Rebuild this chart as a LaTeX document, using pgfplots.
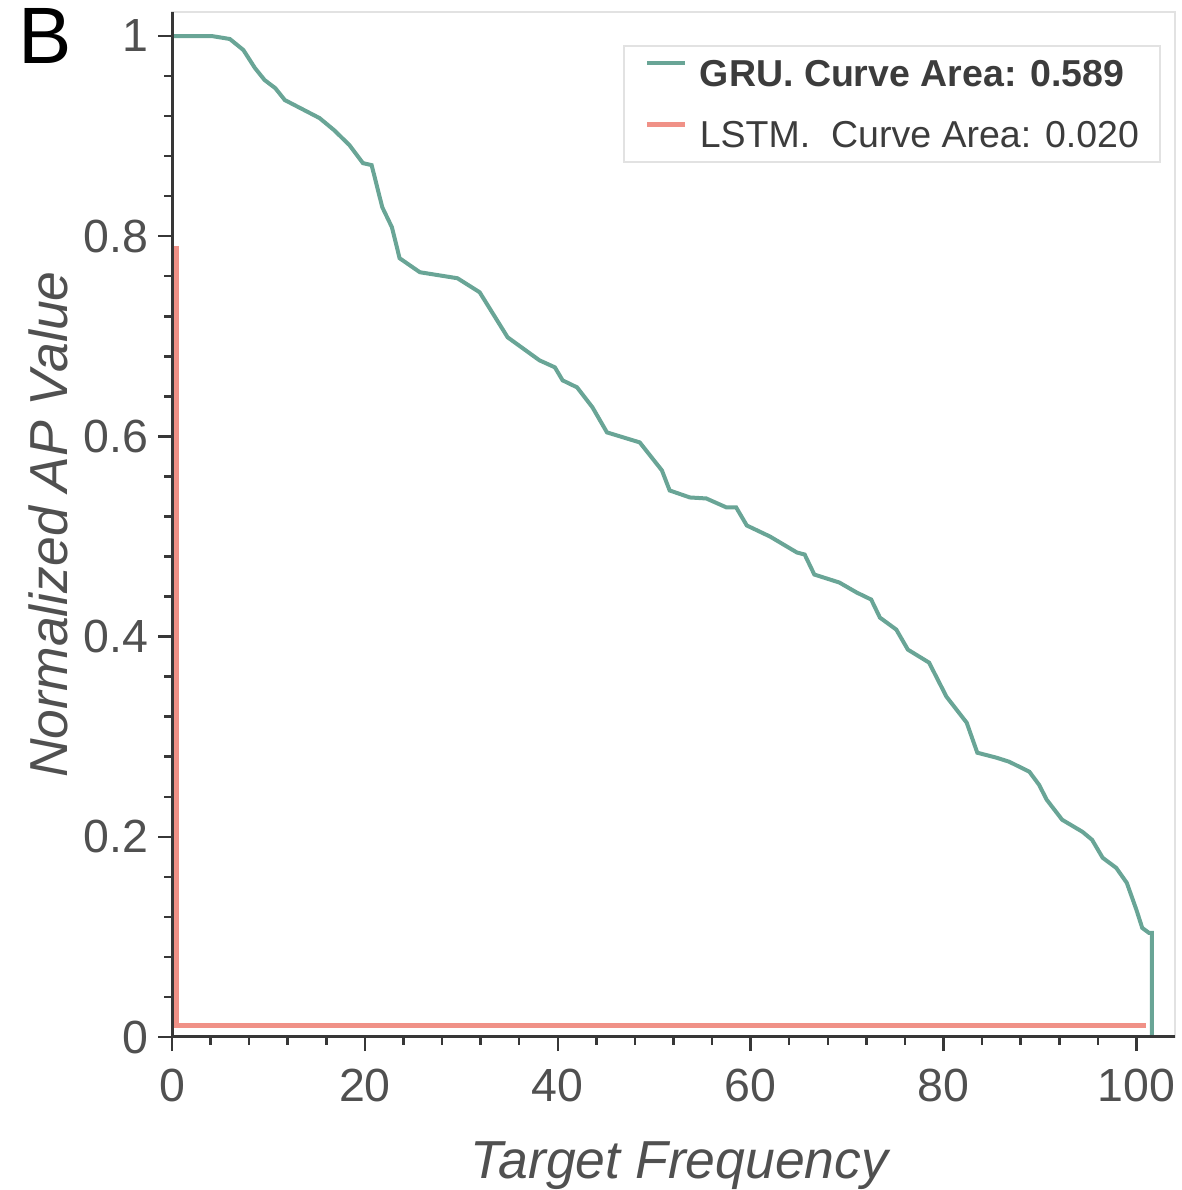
\documentclass[border=0pt]{standalone}
\usepackage{pgfplots}
\pgfplotsset{compat=1.18}
\usepackage{fontspec}
\setmainfont{Liberation Sans}
\definecolor{gru}{RGB}{105,165,150}
\definecolor{lstm}{RGB}{240,145,135}
\definecolor{spine}{RGB}{55,55,55}
\definecolor{frame}{RGB}{226,226,226}
\definecolor{txt}{RGB}{80,80,80}
\definecolor{legtxt}{RGB}{60,60,60}
\begin{document}
\begin{tikzpicture}
\useasboundingbox (0,0) rectangle (236.2pt,238pt);
\node[font=\fontsize{16}{18}\selectfont, anchor=center, inner sep=0pt] at (9pt,230.8pt) {B};
\begin{axis}[
  at={(34.4pt,30.6pt)}, anchor=south west,
  scale only axis, width=200.6pt, height=205pt,
  xmin=0, xmax=104, ymin=0, ymax=1.024,
  xtick={0,20,40,60,80,100}, ytick={0,0.2,0.4,0.6,0.8,1},
  minor tick num=4,
  tick align=outside, tick pos=left,
  major tick length=2.8pt, minor tick length=1.6pt,
  every tick/.style={spine, line width=0.5pt},
  axis line style={frame, line width=0.5pt},
  ticklabel style={font=\fontsize{9.3}{11}\selectfont, text=txt},
  yticklabel style={xshift=1.6pt},
  /pgf/number format/assume math mode=true,
  xlabel={Target Frequency}, ylabel={Normalized AP Value},
  label style={font=\fontsize{10.7}{12}\selectfont\itshape, text=txt},
  xlabel style={at={(axis description cs:0.506,-0.1376)}, anchor=base},
  ylabel style={at={(axis description cs:-0.1236,0.5)}, anchor=center},
  legend style={at={(rel axis cs:0.986,0.968)}, anchor=north east,
    draw=frame, fill=white, font=\fontsize{7.5}{9}\selectfont, text=legtxt,
    inner xsep=4.2pt, inner ysep=2.8pt, column sep=2.4pt, row sep=6.8pt,
    nodes={inner sep=0pt, text height=5.4pt, text depth=0pt}},
  legend cell align=left,
  legend image code/.code={\draw[#1] (0pt,2pt) -- (7.6pt,2pt);},
  clip=false,
]
\addplot[gru, line width=0.8pt] coordinates {
(0,1.0) (4.1,1.0) (6.0,0.997) (7.4,0.986) (8.6,0.968) (9.6,0.956) (10.7,0.948)
(11.7,0.936) (13.3,0.928) (15.3,0.918) (16.8,0.906) (18.4,0.891) (19.8,0.873)
(20.7,0.871) (21.8,0.829) (22.8,0.809) (23.6,0.778) (25.7,0.764) (29.6,0.758)
(31.9,0.744) (34.8,0.699) (38.1,0.676) (39.7,0.669) (40.5,0.656) (42.0,0.649)
(43.6,0.629) (45.1,0.604) (48.5,0.594) (50.8,0.566) (51.6,0.546) (53.7,0.539)
(55.4,0.538) (57.5,0.529) (58.5,0.529) (59.6,0.511) (62.0,0.500) (64.8,0.484)
(65.6,0.482) (66.6,0.462) (69.2,0.454) (71.0,0.444) (72.5,0.437) (73.4,0.419)
(75.1,0.407) (76.3,0.387) (78.5,0.374) (80.3,0.340) (82.4,0.314) (83.5,0.284)
(85.5,0.279) (86.8,0.275) (88.9,0.265) (89.9,0.252) (90.7,0.237) (92.3,0.217)
(94.4,0.205) (95.4,0.197) (96.5,0.179) (97.9,0.169) (99.0,0.154) (100.0,0.127)
(100.6,0.109) (101.3,0.104) (101.6,0.104) (101.6,0.0)
};
\addlegendentry{\textbf{GRU. Curve Area: 0.589}}
\addplot[lstm, line width=1pt] coordinates {
(0.5,0.79) (0.5,0.011) (101.0,0.011)
};
\addlegendentry{LSTM.~~Curve Area: 0.020}
\draw[spine, line width=0.6pt] (rel axis cs:0,1) -- (rel axis cs:0,0) -- (rel axis cs:1,0);
\end{axis}
\end{tikzpicture}
\end{document}
